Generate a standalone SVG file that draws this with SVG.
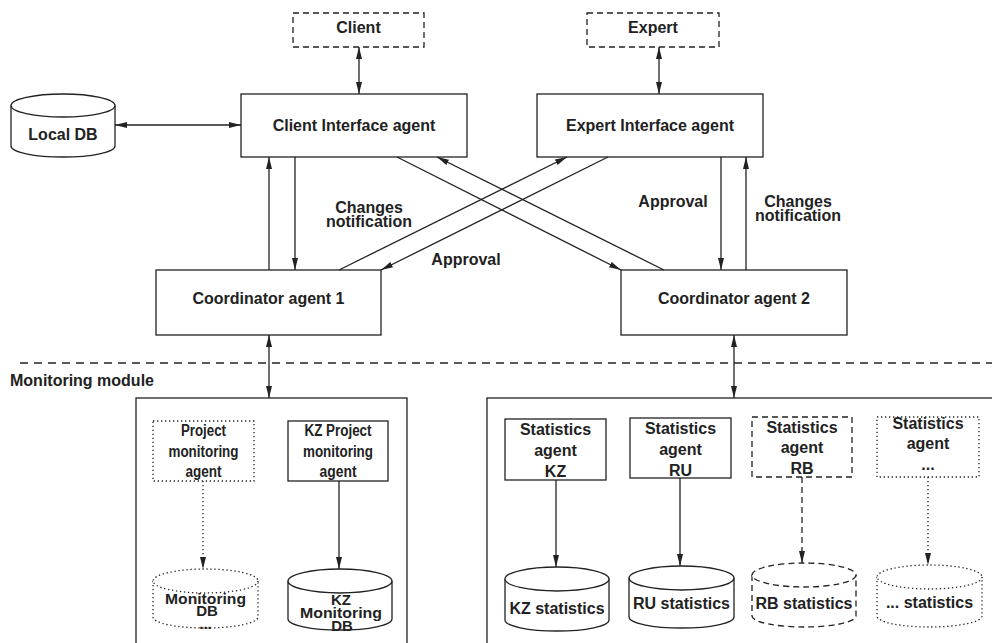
<svg xmlns="http://www.w3.org/2000/svg" width="992" height="643" viewBox="0 0 992 643">
<style>
text{font-family:"Liberation Sans",Arial,sans-serif;font-weight:bold;font-size:16px;fill:#222;text-anchor:middle}
.l{text-anchor:start}
.s{font-size:15px}
.b{fill:#fff;stroke:#222;stroke-width:1.3}
.n{fill:none;stroke:#222;stroke-width:1.3}
.dash{stroke-dasharray:6,4}
.dot{stroke-dasharray:1.3,2.7}
.c{fill:none;stroke:#222;stroke-width:1.3}
</style>
<defs>
<marker id="a" viewBox="0 0 12 6" refX="12" refY="3" markerWidth="12" markerHeight="6" markerUnits="userSpaceOnUse" orient="auto-start-reverse">
<path d="M0,0 L12,3 L0,6 z" fill="#222"/>
</marker>
</defs>
<rect width="992" height="643" fill="#fff"/>

<g id="client"><rect x="293" y="13" width="131" height="34" class="b dash"/><text x="358.5" y="33">Client</text></g>
<g id="expert"><rect x="587" y="13" width="132" height="34" class="b dash"/><text x="653" y="33">Expert</text></g>
<g id="localdb">
<path d="M11,105.5 L11,146 A52,11 0 0 0 115,146 L115,105.5" class="b"/>
<ellipse cx="63" cy="105.5" rx="52" ry="11.5" class="b"/>
<text x="63" y="140">Local DB</text></g>
<g id="cia"><rect x="241" y="94" width="226" height="63" class="b"/><text x="354" y="131">Client Interface agent</text></g>
<g id="eia"><rect x="537" y="94" width="226" height="63" class="b"/><text x="650" y="131">Expert Interface agent</text></g>
<g id="coord1"><rect x="156" y="270" width="225" height="65" class="b"/><text x="268.5" y="304">Coordinator agent 1</text></g>
<g id="coord2"><rect x="621" y="270" width="226" height="65" class="b"/><text x="734" y="304">Coordinator agent 2</text></g>

<g id="separator">
<line x1="20" y1="363" x2="992" y2="363" class="n" stroke-dasharray="8,6"/>
<text x="10" y="386" class="l">Monitoring module</text></g>

<g id="monbox"><rect x="136" y="398" width="271" height="260" class="b"/></g>
<g id="statbox"><rect x="487" y="398" width="520" height="260" class="b"/></g>

<g id="pma"><rect x="153" y="421" width="101" height="60" class="b dot"/>
<text x="203.5" y="436" textLength="45" lengthAdjust="spacingAndGlyphs">Project</text>
<text x="203.5" y="457" textLength="70" lengthAdjust="spacingAndGlyphs">monitoring</text>
<text x="203.5" y="477" textLength="36" lengthAdjust="spacingAndGlyphs">agent</text></g>
<g id="kzpma"><rect x="288" y="421" width="100" height="60" class="b"/>
<text x="338" y="436" textLength="67" lengthAdjust="spacingAndGlyphs">KZ Project</text>
<text x="338" y="457" textLength="70" lengthAdjust="spacingAndGlyphs">monitoring</text>
<text x="338" y="477" textLength="37" lengthAdjust="spacingAndGlyphs">agent</text></g>

<g id="mondb">
<path d="M153,581 L153,617 A52.5,11 0 0 0 258,617 L258,581" class="b dot"/>
<ellipse cx="205.5" cy="581" rx="52.5" ry="12" class="b dot"/>
<text x="205.5" y="604" class="s" textLength="81" lengthAdjust="spacingAndGlyphs">Monitoring</text><text x="207" y="616" class="s">DB</text><text x="205.5" y="629" class="s">...</text></g>
<g id="kzmondb">
<path d="M288,581 L288,619 A52,11 0 0 0 392,619 L392,581" class="b"/>
<ellipse cx="340" cy="581" rx="52" ry="12" class="b"/>
<text x="341" y="605" class="s">KZ</text><text x="341" y="618" class="s" textLength="82" lengthAdjust="spacingAndGlyphs">Monitoring</text><text x="342" y="631" class="s">DB</text></g>

<g id="sakz"><rect x="505" y="419" width="101" height="61" class="b"/>
<text x="555.5" y="435">Statistics</text><text x="555.5" y="456">agent</text><text x="555.5" y="477">KZ</text></g>
<g id="saru"><rect x="630" y="418" width="101" height="60" class="b"/>
<text x="680.5" y="434">Statistics</text><text x="680.5" y="455">agent</text><text x="680.5" y="476">RU</text></g>
<g id="sarb"><rect x="752" y="417" width="100" height="60" class="b dash"/>
<text x="802" y="433">Statistics</text><text x="802" y="453">agent</text><text x="802" y="474">RB</text></g>
<g id="sadots"><rect x="877" y="417" width="102" height="60" class="b dot"/>
<text x="928" y="429">Statistics</text><text x="928" y="449">agent</text><text x="928" y="470">...</text></g>

<g id="kzstat">
<path d="M505,579 L505,620 A52,11 0 0 0 609,620 L609,579" class="b"/>
<ellipse cx="557" cy="579" rx="52" ry="12" class="b"/>
<text x="557" y="614">KZ statistics</text></g>
<g id="rustat">
<path d="M629,578 L629,617 A52.5,11 0 0 0 734,617 L734,578" class="b"/>
<ellipse cx="681.5" cy="578" rx="52.5" ry="12" class="b"/>
<text x="681.5" y="609">RU statistics</text></g>
<g id="rbstat">
<path d="M752,575 L752,616 A52,11 0 0 0 856,616 L856,575" class="b dash"/>
<ellipse cx="804" cy="575" rx="52" ry="12" class="b dash"/>
<text x="804" y="609">RB statistics</text></g>
<g id="dotstat">
<path d="M877,577 L877,616 A52.5,11 0 0 0 982,616 L982,577" class="b dot"/>
<ellipse cx="929.5" cy="577" rx="52.5" ry="12" class="b dot"/>
<text x="929.5" y="608">... statistics</text></g>

<g id="connectors">
<line x1="359" y1="47" x2="359" y2="94" class="c" marker-start="url(#a)" marker-end="url(#a)"/>
<line x1="659" y1="47" x2="659" y2="94" class="c" marker-start="url(#a)" marker-end="url(#a)"/>
<line x1="115" y1="125" x2="241" y2="125" class="c" marker-start="url(#a)" marker-end="url(#a)"/>
<line x1="269" y1="270" x2="269" y2="157" class="c" marker-end="url(#a)"/>
<line x1="295" y1="157" x2="295" y2="270" class="c" marker-end="url(#a)"/>
<line x1="721" y1="157" x2="721" y2="270" class="c" marker-end="url(#a)"/>
<line x1="746" y1="270" x2="746" y2="157" class="c" marker-end="url(#a)"/>
<line x1="339" y1="270" x2="567" y2="157" class="c" marker-end="url(#a)"/>
<line x1="608" y1="157" x2="381" y2="270" class="c" marker-end="url(#a)"/>
<line x1="397" y1="157" x2="621" y2="270" class="c" marker-end="url(#a)"/>
<line x1="664" y1="270" x2="437" y2="157" class="c" marker-end="url(#a)"/>
<line x1="269" y1="335" x2="269" y2="398" class="c" marker-start="url(#a)" marker-end="url(#a)"/>
<line x1="734" y1="335" x2="734" y2="398" class="c" marker-start="url(#a)" marker-end="url(#a)"/>
<line x1="203" y1="481" x2="203" y2="569" class="c dot" marker-end="url(#a)"/>
<line x1="339" y1="481" x2="339" y2="569" class="c" marker-end="url(#a)"/>
<line x1="556" y1="480" x2="556" y2="567" class="c" marker-end="url(#a)"/>
<line x1="680" y1="478" x2="680" y2="566" class="c" marker-end="url(#a)"/>
<line x1="802" y1="477" x2="802" y2="563" class="c dash" marker-end="url(#a)"/>
<line x1="928" y1="477" x2="928" y2="565" class="c dot" marker-end="url(#a)"/>
<text x="369" y="213">Changes</text><text x="369" y="227">notification</text>
<text x="466" y="265">Approval</text>
<text x="673" y="207">Approval</text>
<text x="798" y="207">Changes</text><text x="798" y="221">notification</text>
</g>
</svg>
